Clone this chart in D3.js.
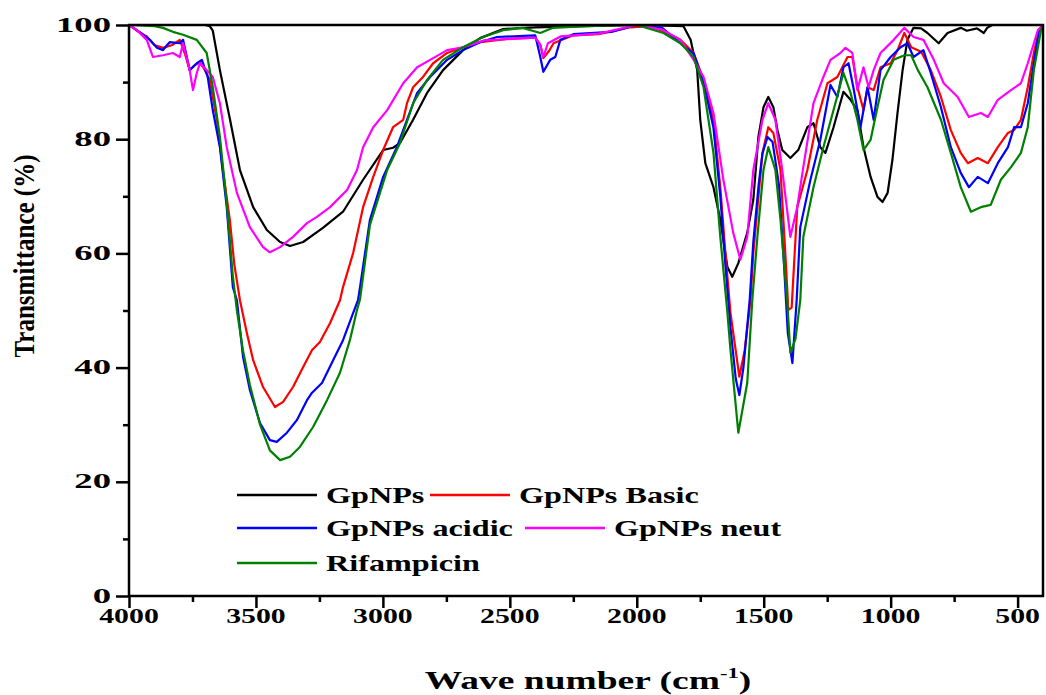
<!DOCTYPE html>
<html>
<head>
<meta charset="utf-8">
<script src="https://cdn.jsdelivr.net/npm/d3@7/dist/d3.min.js"></script>
<style>
  html, body { margin: 0; padding: 0; background: #fff; }
  svg { display: block; }
  text { font-family: "Liberation Serif", "Times New Roman", serif; font-weight: bold; fill: #000; }
</style>
</head>
<body>
<svg id="chart" width="1046" height="695"></svg>
<script>
// FTIR spectra: [wavenumber (cm^-1), transmittance (%)]
const gpnps = [[4000,100],[3700,100],[3682,99.8],[3670,99],[3642,92.1],[3602,83.4],[3563,74.6],[3511,68.1],[3457,64.1],[3405,62.0],[3366,61.3],[3314,62.0],[3235,64.5],[3157,67.3],[3078,72.9],[2999,78.1],[2960,78.5],[2933,79.3],[2881,83.4],[2826,88.1],[2763,92.1],[2684,95.6],[2617,97.7],[2526,99.3],[2400,99.6],[2200,99.8],[2000,100],[1816,99.8],[1788,97.4],[1762,92.1],[1750,83.4],[1730,75.8],[1698,71.6],[1671,65.9],[1643,57.6],[1624,55.9],[1600,58.3],[1565,63.6],[1541,69.4],[1521,80.4],[1501,85.6],[1482,87.4],[1462,85.6],[1446,81.6],[1427,78.1],[1395,76.7],[1364,78.1],[1328,82.1],[1304,82.8],[1277,78.6],[1257,77.6],[1225,82.1],[1186,88.3],[1158,86.9],[1131,85.1],[1107,78.6],[1079,73.4],[1052,69.9],[1032,69.0],[1012,70.6],[993,76.4],[973,84.6],[953,92.1],[934,97.4],[910,99.5],[880,99.4],[855,98.6],[811,96.8],[776,98.6],[724,99.5],[700,99],[660,99.4],[633,98.6],[620,99.5],[600,100],[400,100]];

const gpnpsBasic = [[4000,100],[3969,99],[3930,98],[3900,96.5],[3866,96],[3830,96.5],[3800,97.4],[3780,95],[3761,92.1],[3740,93],[3721,93.5],[3700,92],[3682,90.4],[3654,83.4],[3630,74.6],[3603,65.9],[3585,58],[3563,51.8],[3536,46.1],[3511,41.3],[3472,36.6],[3425,33.1],[3393,34.0],[3354,36.6],[3314,40.1],[3279,43.1],[3248,44.5],[3208,47.8],[3169,51.8],[3157,54.1],[3117,60.1],[3078,68.1],[3038,73.4],[2999,78.1],[2960,82.1],[2920,83.4],[2905,86.3],[2881,89.1],[2842,90.9],[2802,93.3],[2747,95.1],[2684,96.1],[2617,97.0],[2500,97.6],[2400,97.8],[2380,96.5],[2368,94.2],[2345,95.5],[2328,96.8],[2250,98.2],[2150,98.4],[2025,99.6],[1950,99.8],[1900,99.0],[1828,97.4],[1776,95.1],[1737,90.4],[1698,83.4],[1671,71.6],[1651,60.1],[1631,49.6],[1596,38.4],[1575,43],[1552,51.8],[1541,60.1],[1505,77.6],[1482,82.1],[1462,81.1],[1434,74.6],[1415,60.1],[1403,50.1],[1390,50.5],[1368,68.1],[1328,74.6],[1289,83.4],[1249,89.8],[1210,90.9],[1170,94.4],[1151,94.4],[1131,89.1],[1107,85.1],[1091,89.1],[1067,88.6],[1040,92.6],[1000,93.3],[973,95.6],[946,98.6],[919,96.1],[880,95.3],[842,92.1],[802,87.4],[763,81.6],[724,77.6],[696,75.8],[657,76.7],[617,75.8],[578,78.6],[538,81.1],[514,81.6],[487,83.4],[460,89.1],[436,95.1],[416,99.1],[400,100]];

const gpnpsAcidic = [[4000,100],[3969,99.1],[3918,97.4],[3890,96],[3866,95.6],[3850,96.5],[3839,97.0],[3800,96.8],[3787,97.4],[3761,92.1],[3733,93.3],[3713,93.9],[3690,90.9],[3670,85.1],[3642,78.6],[3615,68.1],[3591,54.1],[3575,51.8],[3551,41.9],[3524,36.1],[3484,30.3],[3445,27.3],[3418,27.0],[3378,28.6],[3339,30.8],[3299,34.3],[3279,35.6],[3240,37.3],[3196,41.3],[3157,44.8],[3117,49.6],[3098,51.8],[3090,54.1],[3051,65.9],[2999,73.4],[2945,78.6],[2905,83.4],[2865,88.1],[2814,90.9],[2747,93.9],[2684,95.6],[2617,97.0],[2550,97.9],[2400,98.2],[2380,94.4],[2368,91.8],[2341,93.9],[2321,94.4],[2301,97.4],[2250,98.4],[2100,98.8],[2000,100],[1900,99.5],[1828,96.8],[1776,95],[1737,90],[1698,82],[1671,70],[1651,58],[1631,47],[1610,38],[1596,35.2],[1580,40],[1555,52],[1541,62],[1520,72],[1505,77.5],[1485,80.4],[1465,79.5],[1440,72],[1420,58],[1405,46],[1387,40.8],[1370,52],[1356,64.6],[1316,72.9],[1277,79.9],[1237,89.5],[1210,87.4],[1186,92.6],[1166,93.3],[1147,89.1],[1119,82.1],[1091,89.1],[1067,83.4],[1040,92.1],[1000,94.4],[961,96.1],[934,96.8],[910,94.4],[871,95.6],[842,91.6],[802,85.6],[763,78.6],[724,74.1],[692,71.6],[657,73.4],[617,72.3],[578,75.8],[538,78.6],[514,82.1],[487,82.1],[460,86.3],[436,93.3],[416,99],[400,100]];

const gpnpsNeut = [[4000,100],[3969,99.1],[3930,97.4],[3906,94.4],[3866,94.7],[3827,95.1],[3800,94.4],[3787,96.8],[3761,92.1],[3748,88.6],[3733,91.6],[3721,93.3],[3694,92.1],[3670,90.9],[3642,86.3],[3615,78.6],[3575,70.6],[3524,64.6],[3472,61.1],[3445,60.2],[3405,61.1],[3354,62.9],[3299,65.3],[3260,66.4],[3208,68.1],[3141,71.1],[3102,74.6],[3078,78.6],[3038,82.1],[2983,85.1],[2920,89.8],[2865,92.6],[2814,93.9],[2747,95.6],[2684,96.1],[2600,97.3],[2400,97.8],[2380,96.5],[2368,94.4],[2350,96.8],[2300,98],[2150,98.5],[2000,100],[1900,99.2],[1828,97.4],[1776,93.9],[1737,90.9],[1698,84.6],[1659,72.9],[1620,63.6],[1592,58.9],[1565,62.9],[1541,74.6],[1505,83.4],[1482,86.3],[1454,83.4],[1427,74.6],[1395,62.9],[1368,68.1],[1344,75.1],[1304,86.3],[1265,90.9],[1237,93.9],[1198,95.1],[1178,96.0],[1151,95.1],[1131,88.6],[1107,92.6],[1087,89.1],[1067,92.1],[1040,95.1],[988,97.4],[946,99.5],[910,97.9],[871,97.4],[830,93.9],[791,89.8],[736,87.4],[692,83.9],[645,84.6],[617,83.9],[578,86.9],[526,88.6],[487,89.8],[460,93.3],[420,99.1],[400,100]];

const rifampicin = [[4000,100],[3900,99.8],[3866,99.5],[3827,98.8],[3787,98.3],[3733,97.4],[3694,95.1],[3670,89.1],[3642,80.4],[3615,68.8],[3591,56],[3575,50],[3551,43],[3524,37],[3484,30],[3445,25.5],[3405,23.8],[3366,24.4],[3327,26.1],[3275,29.6],[3220,34.3],[3169,39.1],[3130,44.8],[3102,50.1],[3090,52],[3051,65],[2983,74.6],[2933,79.3],[2881,86.3],[2826,90.4],[2763,93.9],[2684,96.1],[2605,97.9],[2526,99.1],[2450,99.5],[2380,98.6],[2330,99.5],[2200,99.8],[2000,100],[1895,98.6],[1828,96.8],[1776,94.4],[1737,89.1],[1698,77.6],[1671,62.9],[1643,49.6],[1631,43.1],[1600,28.6],[1565,37.3],[1545,51.8],[1525,62.9],[1501,74.6],[1482,78.6],[1454,74.6],[1434,65.9],[1407,51.3],[1395,42.6],[1375,45],[1356,51.8],[1344,62.9],[1304,71.6],[1265,78.6],[1225,85.1],[1186,91.6],[1158,88.1],[1131,83.4],[1107,78.1],[1079,79.9],[1052,85.6],[1028,90.4],[988,93.9],[946,94.7],[919,94.7],[893,92.1],[855,89.1],[802,83.4],[763,77.6],[724,71.6],[684,67.3],[645,68.1],[606,68.5],[566,72.9],[526,75.1],[487,77.6],[460,82.1],[436,92.1],[408,99.1],[400,100]];

const seriesNames = ["GpNPs", "GpNPs Basic", "GpNPs acidic", "GpNPs neut", "Rifampicin"];
const seriesColors = ["#000000", "#ff0000", "#0000ff", "#ff00ff", "#008000"];
const seriesData = [gpnps, gpnpsBasic, gpnpsAcidic, gpnpsNeut, rifampicin];

const xTicks = [4000, 3500, 3000, 2500, 2000, 1500, 1000, 500];
const xMinorTicks = [3750, 3250, 2750, 2250, 1750, 1250, 750];
const yTicks = [0, 20, 40, 60, 80, 100];
const yMinorTicks = [10, 30, 50, 70, 90];

const xTitle = "Wave number (cm";
const yTitle = "Transmittance (%)";

// Layout
const plot = { left: 129, right: 1043, top: 25, bottom: 596 };

const svg = d3.select("#chart");

const x = d3.scaleLinear().domain([4000, 400]).range([plot.left, plot.right]);
const y = d3.scaleLinear().domain([0, 100]).range([plot.bottom, plot.top]);

svg.append("defs").append("clipPath").attr("id", "plotClip")
  .append("rect")
  .attr("x", plot.left).attr("y", plot.top - 1)
  .attr("width", plot.right - plot.left).attr("height", plot.bottom - plot.top + 1);

// Spectra
const line = d3.line().x(d => x(d[0])).y(d => y(d[1]));
const curves = svg.append("g").attr("clip-path", "url(#plotClip)");
seriesData.forEach((data, i) => {
  curves.append("path")
    .datum(data)
    .attr("fill", "none")
    .attr("stroke", seriesColors[i])
    .attr("stroke-width", 2.2)
    .attr("stroke-linejoin", "round")
    .attr("d", line);
});

// Axes
const xAxis = svg.append("g").attr("transform", `translate(0,${plot.bottom})`)
  .call(d3.axisBottom(x).tickValues(xTicks).tickSize(12).tickFormat(""));
const xAxisMinor = svg.append("g").attr("transform", `translate(0,${plot.bottom})`)
  .call(d3.axisBottom(x).tickValues(xMinorTicks).tickSize(6).tickFormat(""));
const yAxis = svg.append("g").attr("transform", `translate(${plot.left},0)`)
  .call(d3.axisLeft(y).tickValues(yTicks).tickSize(13).tickFormat(""));
const yAxisMinor = svg.append("g").attr("transform", `translate(${plot.left},0)`)
  .call(d3.axisLeft(y).tickValues(yMinorTicks).tickSize(6).tickFormat(""));

[xAxis, xAxisMinor, yAxis, yAxisMinor].forEach(g => {
  g.select(".domain").remove();
  g.selectAll(".tick line").attr("stroke", "#000").attr("stroke-width", 2.5);
});

// Frame
svg.append("rect")
  .attr("x", plot.left).attr("y", plot.top)
  .attr("width", plot.right - plot.left).attr("height", plot.bottom - plot.top)
  .attr("fill", "none").attr("stroke", "#000").attr("stroke-width", 2.5);

// Tick labels (wide bold serif)
xTicks.forEach(v => {
  svg.append("text")
    .attr("transform", `translate(${x(v)},623) scale(1.42,1)`)
    .attr("text-anchor", "middle")
    .attr("font-size", 21)
    .text(v);
});
yTicks.forEach(v => {
  svg.append("text")
    .attr("transform", `translate(111,${y(v) + 6.5}) scale(1.75,1)`)
    .attr("text-anchor", "end")
    .attr("font-size", 21)
    .text(v);
});

// Axis titles
const xt = svg.append("text")
  .attr("transform", `translate(588,689) scale(1.5,1)`)
  .attr("text-anchor", "middle")
  .attr("font-size", 25);
xt.append("tspan").text(xTitle);
xt.append("tspan").attr("font-size", 15).attr("dy", -11).text("-1");
xt.append("tspan").attr("dy", 11).text(")");

svg.append("text")
  .attr("transform", `translate(34,256) scale(1.2,1) rotate(-90)`)
  .attr("text-anchor", "middle")
  .attr("font-size", 25)
  .text(yTitle);

// Legend
const legendItems = [
  { i: 0, lx: 237, ty: 495 },
  { i: 1, lx: 430, ty: 495 },
  { i: 2, lx: 237, ty: 528 },
  { i: 3, lx: 525, ty: 528 },
  { i: 4, lx: 237, ty: 563 }
];
const legend = svg.append("g");
legendItems.forEach(item => {
  legend.append("line")
    .attr("x1", item.lx).attr("x2", item.lx + 80)
    .attr("y1", item.ty).attr("y2", item.ty)
    .attr("stroke", seriesColors[item.i]).attr("stroke-width", 2.5);
  legend.append("text")
    .attr("transform", `translate(${item.lx + 89},${item.ty + 8}) scale(1.4,1)`)
    .attr("font-size", 23)
    .text(seriesNames[item.i]);
});
</script>
</body>
</html>
